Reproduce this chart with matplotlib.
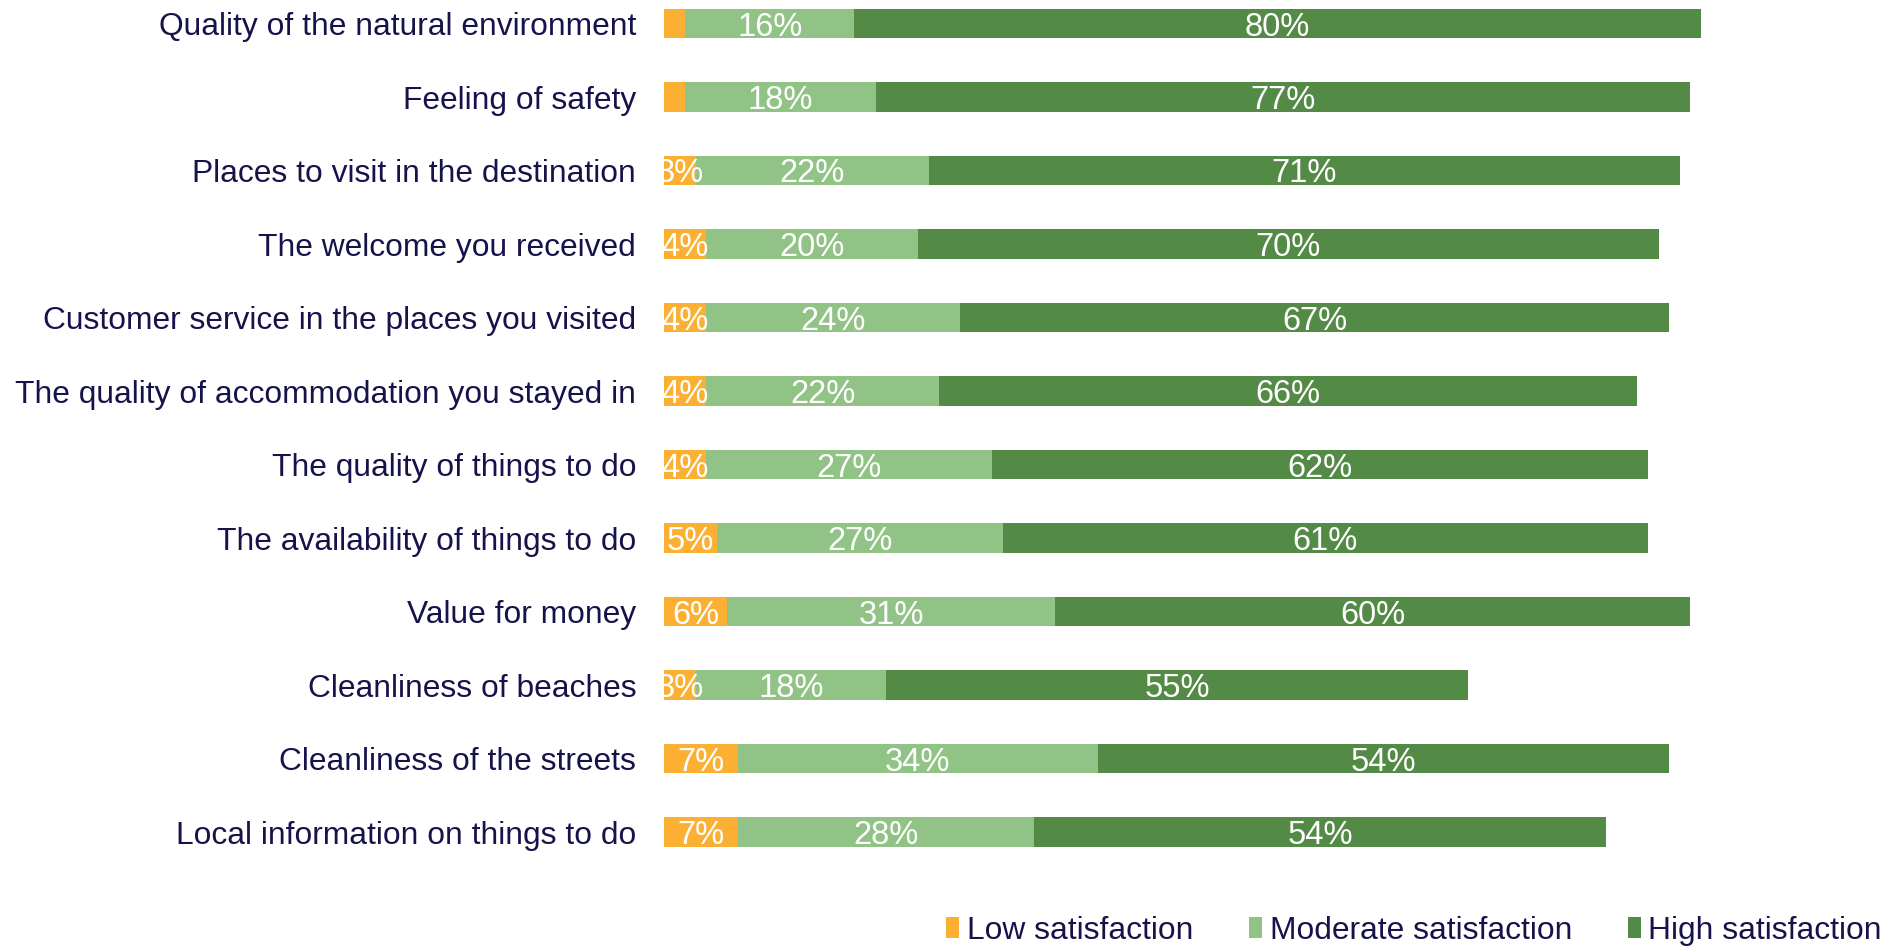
import matplotlib
matplotlib.use("Agg")
from matplotlib import pyplot as plt
import numpy as np

plt.rcParams['font.family'] = ['Liberation Sans', 'DejaVu Sans']

categories = [
    "Quality of the natural environment",
    "Feeling of safety",
    "Places to visit in the destination",
    "The welcome you received",
    "Customer service in the places you visited",
    "The quality of accommodation you stayed in",
    "The quality of things to do",
    "The availability of things to do",
    "Value for money",
    "Cleanliness of beaches",
    "Cleanliness of the streets",
    "Local information on things to do",
]
low = [2, 2, 3, 4, 4, 4, 4, 5, 6, 3, 7, 7]
moderate = [16, 18, 22, 20, 24, 22, 27, 27, 31, 18, 34, 28]
high = [80, 77, 71, 70, 67, 66, 62, 61, 60, 55, 54, 54]

series = [
    ("Low satisfaction", low, "#FBB034"),
    ("Moderate satisfaction", moderate, "#92C386"),
    ("High satisfaction", high, "#538A45"),
]
text_color = "#16124A"

fig = plt.figure(figsize=(18.91, 9.47), dpi=100)
ax = fig.add_axes([664 / 1891, 77 / 947, 1058 / 1891, 870 / 947])

y = np.arange(len(categories))
left = np.zeros(len(categories))
for name, vals, color in series:
    vals = np.array(vals, dtype=float)
    ax.barh(y, vals, left=left, height=0.4, color=color, label=name)
    # value labels, hidden for the thinnest slices
    for yi, l, v in zip(y, left, vals):
        if v >= 3:
            ax.text(l + v / 2, yi, f"{v:.0f}%", ha="center", va="center_baseline",
                    color="white", fontsize=23.5, clip_on=True)
    left += vals

ax.set_xlim(0, 100)
ax.set_ylim(11 + 38 / 73.5, -23.5 / 73.5)
ax.set_yticks(y)
ax.set_yticklabels(categories, fontsize=22.9, color=text_color)
ax.tick_params(axis="y", length=0, pad=20)
ax.set_xticks([])
for s in ax.spines.values():
    s.set_visible(False)

leg = fig.legend(loc="center right", bbox_to_anchor=(1882 / 1891, 1 - 931 / 947),
                 ncol=3, frameon=False, fontsize=22.9, handlelength=0.4,
                 handleheight=0.65, handletextpad=0.25, columnspacing=1.75,
                 borderaxespad=0, borderpad=0)
for t in leg.get_texts():
    t.set_color(text_color)

fig.savefig("out.png", dpi=100)
